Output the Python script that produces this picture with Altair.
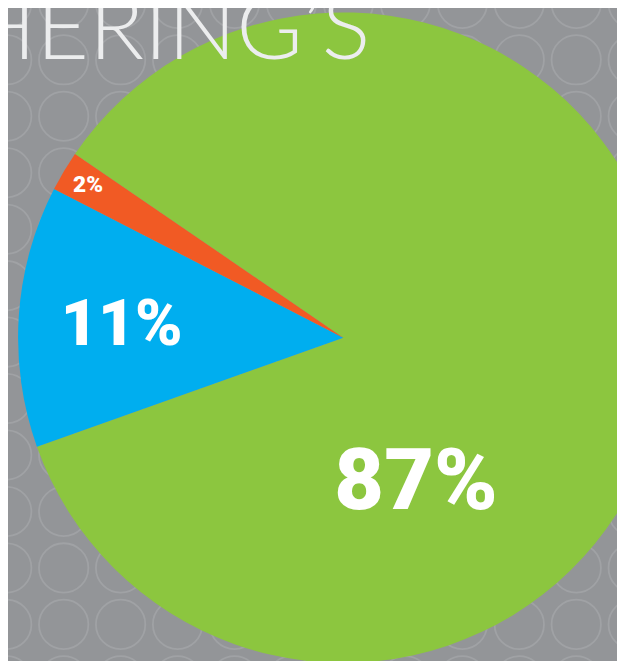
import math
import altair as alt
import pandas as pd

# Slice shares as drawn (measured from the slice angles) and the printed labels
categories = ["Green", "Blue", "Red"]
shares = [85, 13, 2]
labels = ["87%", "11%", "2%"]
colors = ["#8cc63f", "#00aeef", "#f15a24"]
title_text = "HERING\u2019S"

# Background ring pattern: grid indices only
pattern_cols = list(range(12))
pattern_rows = list(range(13))

W, H = 617, 653
CX, CY, R = 339.7, 329.7, 329.5
start = math.radians(304.4)

pie_df = pd.DataFrame({"cat": categories, "share": shares, "label": labels,
                       "order": list(range(len(categories)))})
pat_df = pd.DataFrame([{"c": c, "r": r} for c in pattern_cols for r in pattern_rows])

base = alt.Chart(pie_df)
theta = alt.Theta("share:Q", stack=True, scale=alt.Scale(range=[start, start + 2 * math.pi]))
order = alt.Order("order:O")

pattern = alt.Chart(pat_df).mark_point(
    shape="circle", size=2500, filled=False, stroke="#a0a2a5", strokeWidth=1.8, opacity=1
).encode(
    x=alt.X("c:Q", scale=alt.Scale(domain=[0, 1], range=[-1.3, 56.4], zero=False, nice=False), axis=None),
    y=alt.Y("r:Q", scale=alt.Scale(domain=[0, 1], range=[-9, 48.2], zero=False, nice=False), axis=None),
)

arcs = base.mark_arc(radius=R, stroke=None).encode(
    theta=theta,
    order=order,
    color=alt.Color("cat:N", scale=alt.Scale(domain=categories, range=colors), legend=None),
    x=alt.value(CX), y=alt.value(CY),
)

def label_layer(cat, radius, size, dx=0, dy=0):
    return base.mark_text(
        font="Roboto", fontWeight=900, fontSize=size, color="white",
        align="center", baseline="middle", radius=radius, dx=dx, dy=dy,
    ).encode(
        theta=theta, order=order, text="label:N",
        x=alt.value(CX), y=alt.value(CY),
        opacity=alt.condition(alt.datum.cat == cat, alt.value(1), alt.value(0)),
    )

lab_green = label_layer("Green", 160, 87, dx=-85, dy=127)
lab_blue = label_layer("Blue", 226, 65, dx=1, dy=2)
lab_red = label_layer("Red", 301, 23)

title = alt.Chart(pd.DataFrame({"t": [title_text]})).mark_text(
    font="Lato", fontWeight=300, fontSize=92, color="#ecedee",
    align="right", baseline="alphabetic",
).encode(text="t:N", x=alt.value(367), y=alt.value(47))

chart = alt.layer(pattern, arcs, lab_green, lab_blue, lab_red, title).properties(
    width=W, height=H, autosize=alt.AutoSizeParams(type="none"), padding=0,
    background="#939598",
).configure_view(stroke=None, clip=False)

chart.save("out.html", embed_options={"renderer": "svg", "actions": False})
